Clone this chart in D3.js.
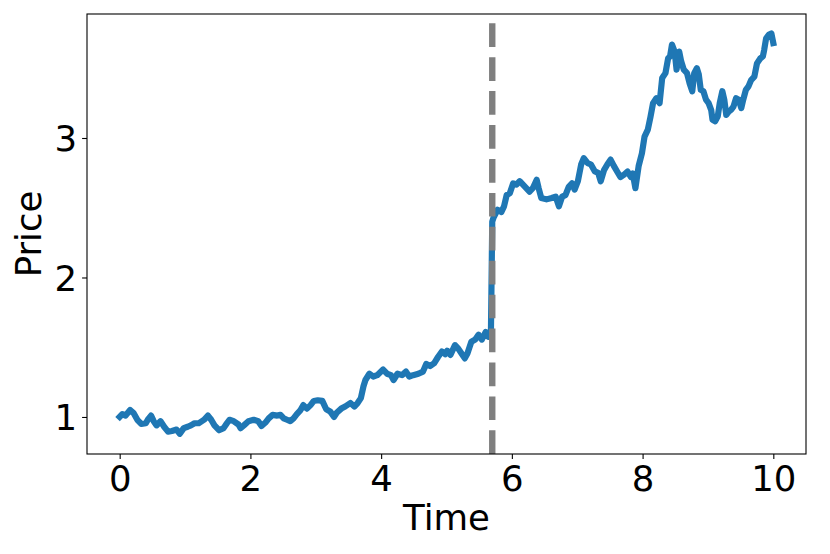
<!DOCTYPE html>
<html><head><meta charset="utf-8">
<script src="https://cdn.jsdelivr.net/npm/d3@7"></script>
<style>body{margin:0;background:#fff}svg{display:block}text{font-family:"DejaVu Sans",sans-serif;fill:#000}</style>
</head><body><svg id="c" width="830" height="554"></svg>
<script>
const times = [0,0.04,0.09,0.16,0.21,0.27,0.33,0.40,0.43,0.48,0.52,0.565,0.625,0.68,0.74,0.80,0.87,0.92,0.98,1.04,1.09,1.145,1.21,1.29,1.35,1.40,1.45,1.52,1.59,1.64,1.68,1.745,1.82,
1.85,1.90,1.97,2.05,2.12,2.17,2.23,2.28,2.34,2.41,2.46,2.51,2.56,2.61,2.66,2.71,2.76,2.81,2.865,2.92,2.97,3.03,3.10,3.16,3.22,3.28,3.32,3.39,3.45,3.53,3.59,3.64,3.69,3.73,
3.76,3.82,3.88,3.94,4.03,4.09,4.15,4.19,4.25,4.32,4.38,4.43,4.49,4.57,4.64,4.69,4.75,4.81,4.87,4.93,4.98,5.01,5.06,5.13,5.18,5.23,5.28,5.32,5.38,5.44,5.49,5.54,5.60,5.64,5.68,
5.70,5.72,5.78,5.84,5.88,5.92,5.97,6.02,6.07,6.12,6.17,6.22,6.27,6.32,6.38,6.41,6.45,6.53,6.61,6.67,6.72,6.77,6.82,6.87,6.92,6.96,7.01,7.06,7.10,7.16,7.21,7.27,7.32,7.36,7.41,7.46,7.51,7.56,7.61,7.66,7.71,7.77,7.82,7.85,7.89,7.94,7.99,
8.03,8.08,8.12,8.16,8.21,8.26,8.30,8.35,8.39,8.42,8.45,8.49,8.52,8.56,8.59,8.63,8.68,8.72,8.76,8.79,8.83,8.86,8.89,8.93,8.97,9.01,9.05,9.07,9.11,9.15,9.18,9.22,9.25,9.28,9.32,9.35,9.39,9.43,9.47,9.51,9.54,9.58,9.62,9.66,9.71,9.75,9.80,9.84,9.86,9.89,9.93,9.97,10.0];
const prices = [1.0,1.02,1.01,1.05,1.03,0.98,0.95,0.955,0.98,1.01,0.97,0.94,0.97,0.93,0.895,0.90,0.91,0.88,0.92,0.93,0.94,0.955,0.955,0.98,1.01,0.98,0.94,0.905,0.92,0.955,0.98,0.97,0.945,
0.92,0.94,0.97,0.98,0.97,0.935,0.96,0.99,1.015,1.01,1.015,0.99,0.98,0.97,0.99,1.02,1.045,1.085,1.06,1.085,1.115,1.12,1.115,1.055,1.04,1.00,1.03,1.06,1.075,1.10,1.075,1.10,1.135,1.22,
1.265,1.31,1.29,1.30,1.34,1.31,1.30,1.265,1.31,1.30,1.325,1.29,1.30,1.31,1.325,1.38,1.365,1.385,1.43,1.47,1.45,1.475,1.445,1.515,1.49,1.455,1.42,1.455,1.54,1.555,1.59,1.555,1.61,1.575,1.62,
2.40,2.43,2.485,2.47,2.51,2.59,2.605,2.675,2.665,2.69,2.665,2.64,2.615,2.64,2.70,2.64,2.57,2.56,2.57,2.58,2.51,2.58,2.59,2.65,2.675,2.63,2.69,2.81,2.855,2.82,2.81,2.76,2.75,2.69,2.77,2.81,2.845,2.80,2.76,2.72,2.735,2.76,2.72,2.745,2.64,2.80,2.89,
3.01,3.06,3.15,3.25,3.285,3.25,3.43,3.465,3.57,3.585,3.67,3.62,3.49,3.62,3.55,3.49,3.465,3.39,3.335,3.465,3.50,3.455,3.345,3.335,3.275,3.25,3.20,3.13,3.12,3.155,3.25,3.335,3.275,3.165,3.19,3.20,3.225,3.285,3.275,3.215,3.275,3.345,3.37,3.415,3.44,3.535,3.57,3.585,3.63,3.715,3.74,3.75,3.68];
const jumpTime = 5.7;
const xTicks = [0,2,4,6,8,10];
const yTicks = [1,2,3];
const xLabel = "Time", yLabel = "Price";

const svg = d3.select("#c");
const L = 87, R = 806, T = 14, B = 454;
const fs = 35.5;
const x = d3.scaleLinear().domain([-0.5, 10.5]).range([L, R]);
const y = d3.scaleLinear().domain([0.7346, 3.8889]).range([B, T]);

const data = times.map((t, i) => [t, prices[i]]);
svg.append("path").datum(data)
  .attr("d", d3.line().x(d => x(d[0])).y(d => y(d[1])))
  .attr("fill", "none").attr("stroke", "#1f77b4").attr("stroke-width", 6.2)
  .attr("stroke-linejoin", "round").attr("stroke-linecap", "square");

const dlw = 6.4;
svg.append("line").attr("x1", x(jumpTime)).attr("x2", x(jumpTime))
  .attr("y1", B).attr("y2", T)
  .attr("stroke", "#7f7f7f").attr("stroke-width", dlw)
  .attr("stroke-dasharray", `${3.7 * dlw},${1.6 * dlw}`);

const xa = svg.append("g").attr("transform", `translate(0,${B})`)
  .call(d3.axisBottom(x).tickValues(xTicks).tickFormat(d3.format("d")).tickSize(4.9).tickPadding(4.9));
const ya = svg.append("g").attr("transform", `translate(${L},0)`)
  .call(d3.axisLeft(y).tickValues(yTicks).tickFormat(d3.format("d")).tickSize(4.9).tickPadding(4.9));
[xa, ya].forEach(g => {
  g.select(".domain").remove();
  g.selectAll(".tick line").attr("stroke", "#000").attr("stroke-width", 1.1);
  g.selectAll(".tick text").attr("font-size", fs).attr("font-family", "DejaVu Sans").attr("fill", "#000");
});
xa.selectAll(".tick text").attr("dy", null).attr("y", 490.5 - B).attr("dominant-baseline", "auto");
ya.selectAll(".tick text").attr("dy", null).attr("dominant-baseline", "auto").attr("y", 12.9);

svg.append("rect").attr("x", L).attr("y", T).attr("width", R - L).attr("height", B - T)
  .attr("fill", "none").attr("stroke", "#000").attr("stroke-width", 1.1);

svg.append("text").attr("x", (L + R) / 2).attr("y", 530).attr("text-anchor", "middle")
  .attr("font-size", fs).text(xLabel);
svg.append("text").attr("transform", `translate(41,${(T + B) / 2}) rotate(-90)`)
  .attr("text-anchor", "middle").attr("font-size", fs).text(yLabel);
</script></body></html>
